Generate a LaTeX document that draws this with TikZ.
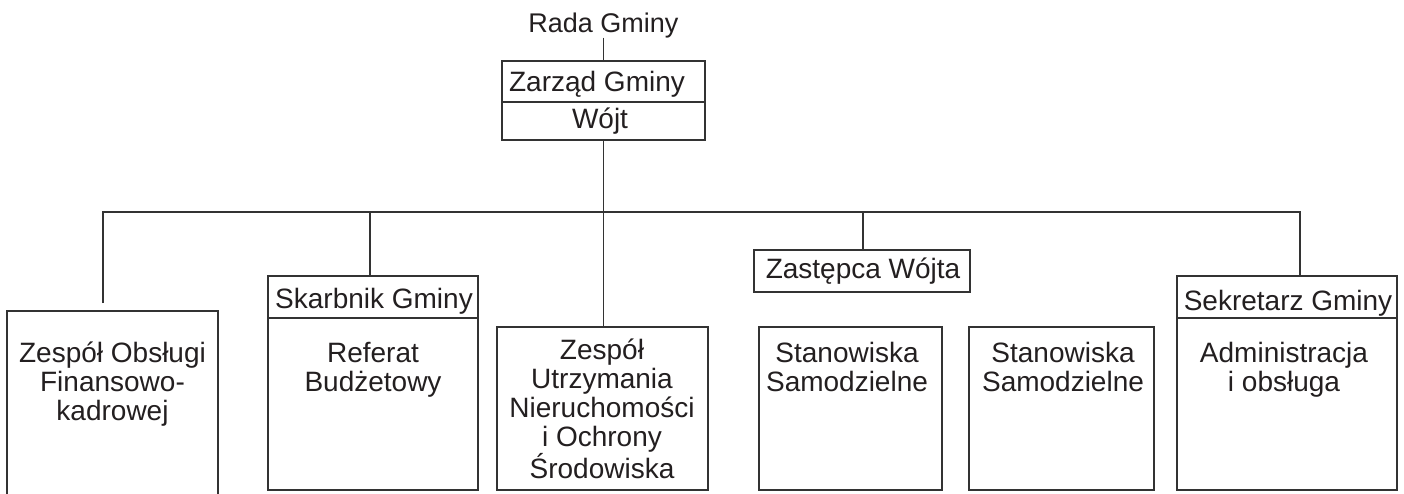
\documentclass[tikz,border=0pt]{standalone}
\usepackage{fontspec}
\setmainfont{Liberation Sans}
\definecolor{ink}{HTML}{231F20}
\definecolor{rulec}{HTML}{333333}
\begin{document}
\begin{tikzpicture}[x=1pt,y=-1pt,
  box/.style={draw=rulec, line width=1.8pt, rectangle, inner sep=0pt, outer sep=0pt},
  frame/.style={rectangle, inner sep=0pt, outer sep=0pt},
  lbl/.style={text=ink, font=\fontsize{28}{29}\selectfont, inner sep=0pt, outer sep=0pt, anchor=base, align=center},
  conn/.style={draw=rulec, line width=1.8pt, line join=miter}]
\useasboundingbox (0,0) rectangle (1404,493);
\fill[white] (0,0) rectangle (1404,493);

% boxes
\node[box, minimum width=203, minimum height=41] (zg) at (603.5,81.5) {};
\node[box, minimum width=203, minimum height=38] (wojt) at (603.5,121) {};
\node[frame, minimum width=211, minimum height=186] (b1) at (112.5,404) {};
\draw[conn] (b1.south west) -- (b1.north west) -- (b1.north east) -- (b1.south east);
\node[box, minimum width=210, minimum height=42] (skh) at (373,297) {};
\node[box, minimum width=210, minimum height=172] (skb) at (373,404) {};
\node[box, minimum width=211, minimum height=163] (b3) at (602.5,408.5) {};
\node[box, minimum width=216, minimum height=42] (zast) at (862,271) {};
\node[box, minimum width=183, minimum height=163] (b4) at (850.5,408.5) {};
\node[box, minimum width=185, minimum height=163] (b5) at (1061.5,408.5) {};
\node[box, minimum width=220, minimum height=42] (sekh) at (1287,297) {};
\node[box, minimum width=220, minimum height=172] (sekb) at (1287,404) {};

% texts (base anchor = baseline of the last line)
\node[lbl, font=\fontsize{27}{29}\selectfont] (rada) at (603.5,32) {Rada Gminy};
\node[lbl] (zgt) at (597,91) {Zarząd Gminy};
\node[lbl] (wojtt) at (600,128) {Wójt};
\node[lbl] (b1t) at (112.5,420) {Zespół Obsługi\\Finansowo-\\kadrowej};
\node[lbl] (skht) at (374,308) {Skarbnik Gminy};
\node[lbl] (skbt) at (373,391) {Referat\\Budżetowy};
\node[lbl] (b3t) at (602,478) {Zespół\\Utrzymania\\Nieruchomości\\i Ochrony\\Środowiska};
\node[lbl] (zastt) at (863,278) {Zastępca Wójta};
\node[lbl] (b4t) at (847,391) {Stanowiska\\Samodzielne};
\node[lbl] (b5t) at (1063,391) {Stanowiska\\Samodzielne};
\node[lbl] (sekht) at (1288,310) {Sekretarz Gminy};
\node[lbl] (sekbt) at (1284,391) {Administracja\\i obsługa};

% connectors
\coordinate (t1) at (103,212);
\coordinate (t2) at (370,212);
\coordinate (t4) at (863,212);
\coordinate (t5) at (1300,212);
\coordinate (b1gap) at (103,303);
\draw[conn] (rada.south) -- (rada.south |- zg.north);
\draw[conn] (wojt.south) -- (wojt.south |- b3.north);
\draw[conn] (b1gap) -- (t1) -- (t5) -- (t5 |- sekh.north);
\draw[conn] (t2) -- (t2 |- skh.north);
\draw[conn] (t4) -- (t4 |- zast.north);
\end{tikzpicture}
\end{document}
